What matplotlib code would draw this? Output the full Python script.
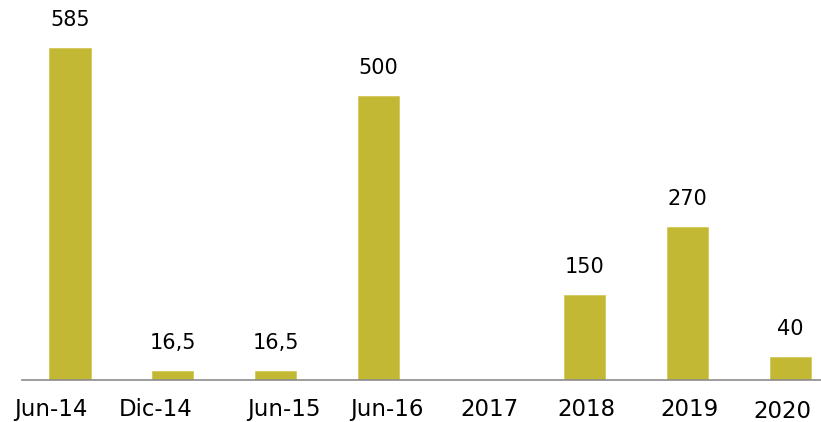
import matplotlib.pyplot as plt
import matplotlib.transforms as mtransforms

# Periodos y montos
periodos = ["Jun-14", "Dic-14", "Jun-15", "Jun-16", "2017", "2018", "2019", "2020"]
montos = [585, 16.5, 16.5, 500, 0, 150, 270, 40]
etiquetas = ["585", "16,5", "16,5", "500", "", "150", "270", "40"]

color_barra = "#C3B833"

fig = plt.figure(figsize=(8.21, 4.22), dpi=100)
ax = fig.add_axes([22 / 821, 42 / 422, 799 / 821, 380 / 422])

x = range(len(periodos))
ax.bar(x, montos, width=0.4, color=color_barra, edgecolor="#D2C95A", linewidth=0.6)

for xi, m, txt in zip(x, montos, etiquetas):
    if txt:
        ax.annotate(txt, (xi, m), xytext=(0, 18), textcoords="offset pixels",
                    ha="center", va="bottom", fontsize=15, color="black",
                    family="DejaVu Sans")

ax.set_xlim(-0.466, 7.3)
ax.set_ylim(0, 669.6)

# etiquetas del eje x, algo desplazadas como en el original
desplaz = [-19, -17, 8, 8, 8, 2, 2, -8]
ax.set_xticks(list(x))
ax.set_xticklabels(periodos, fontsize=16.5, family="DejaVu Sans")
ax.tick_params(axis="x", length=0, pad=13)
for lbl, dx in zip(ax.get_xticklabels(), desplaz):
    lbl.set_transform(lbl.get_transform() + mtransforms.Affine2D().translate(dx, 0))
ax.get_xticklabels()[-1].set_transform(
    ax.get_xticklabels()[-1].get_transform() + mtransforms.Affine2D().translate(0, -1.5))

ax.set_yticks([])
for s in ["top", "right", "left"]:
    ax.spines[s].set_visible(False)
ax.spines["bottom"].set_color("#8C8C8C")
ax.spines["bottom"].set_linewidth(1.2)

fig.savefig("out.png", dpi=100)
